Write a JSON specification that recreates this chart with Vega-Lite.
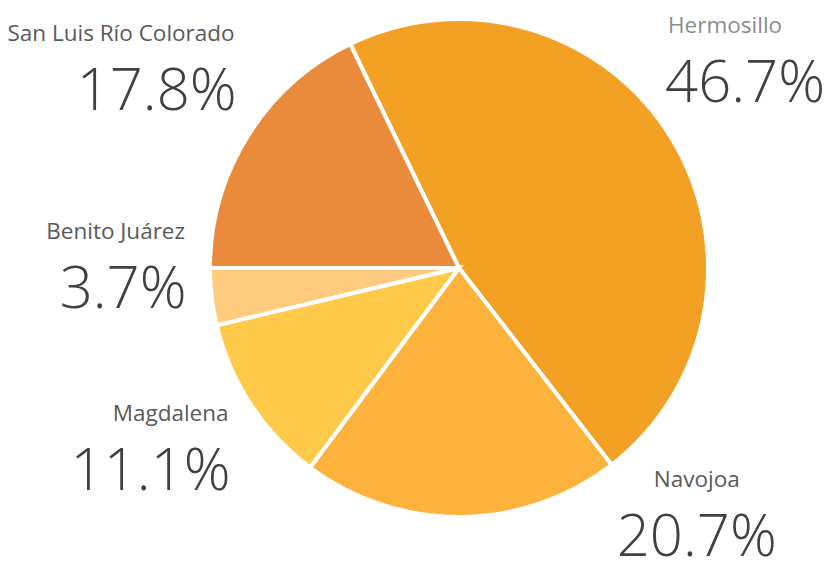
{
  "$schema": "https://vega.github.io/schema/vega-lite/v6.json",
  "width": 734,
  "height": 536,
  "autosize": "none",
  "padding": {"left": 92, "top": 0, "right": 0, "bottom": 25},
  "background": "white",
  "config": {"view": {"stroke": null}},
  "data": {
    "values": [
      {"city": "Hermosillo", "pct": 46.7, "label": "46.7%", "n": 1},
      {"city": "Navojoa", "pct": 20.7, "label": "20.7%", "n": 2},
      {"city": "Magdalena", "pct": 11.1, "label": "11.1%", "n": 3},
      {"city": "Benito Juárez", "pct": 3.7, "label": "3.7%", "n": 4},
      {"city": "San Luis Río Colorado", "pct": 17.8, "label": "17.8%", "n": 5}
    ]
  },
  "encoding": {
    "theta": {"field": "pct", "type": "quantitative", "stack": true, "scale": {"range": [-0.452, 5.831]}},
    "order": {"field": "n", "type": "quantitative", "sort": "ascending"}
  },
  "layer": [
    {
      "mark": {"type": "arc", "outerRadius": 249, "stroke": "white", "strokeWidth": 4},
      "encoding": {
        "color": {
          "field": "city",
          "type": "nominal",
          "scale": {
            "domain": ["Hermosillo", "Navojoa", "Magdalena", "Benito Juárez", "San Luis Río Colorado"],
            "range": ["#F2A124", "#FDB23C", "#FFC94A", "#FFCC7F", "#E98B3A"]
          },
          "legend": null
        }
      }
    },
    {
      "mark": {
        "type": "text",
        "radius": 352,
        "thetaOffset": {"expr": "datum.city === 'Navojoa' ? -0.768 : datum.city === 'Hermosillo' ? -0.082 : datum.city === 'Benito Juárez' ? 0.134 : datum.city === 'Magdalena' ? 0.063 : 0.035"},
        "radiusOffset": {"expr": "datum.city === 'Navojoa' ? -13 : datum.city === 'Hermosillo' ? 4 : datum.city === 'Benito Juárez' ? -16 : datum.city === 'Magdalena' ? 3 : 13"},
        "dy": -30,
        "dx": {"expr": "datum.city === 'Navojoa' ? 0 : datum.city === 'Hermosillo' ? -77 : datum.city === 'Benito Juárez' ? 62 : 78"},
        "align": {"expr": "datum.city === 'Navojoa' ? 'center' : (datum.city === 'Hermosillo' ? 'left' : 'right')"},
        "baseline": "middle",
        "font": "Open Sans",
        "fontSize": 22.5,
        "color": {"expr": "datum.city === 'Hermosillo' ? '#8C8C8C' : '#595959'"}
      },
      "encoding": {"text": {"field": "city", "type": "nominal"}}
    },
    {
      "mark": {
        "type": "text",
        "radius": 352,
        "thetaOffset": {"expr": "datum.city === 'Navojoa' ? -0.768 : datum.city === 'Hermosillo' ? -0.082 : datum.city === 'Benito Juárez' ? 0.134 : datum.city === 'Magdalena' ? 0.063 : 0.035"},
        "radiusOffset": {"expr": "datum.city === 'Navojoa' ? -13 : datum.city === 'Hermosillo' ? 4 : datum.city === 'Benito Juárez' ? -16 : datum.city === 'Magdalena' ? 3 : 13"},
        "dy": 29,
        "align": "center",
        "baseline": "middle",
        "font": "Open Sans",
        "fontWeight": 300,
        "fontSize": 58,
        "color": "#404040"
      },
      "encoding": {"text": {"field": "label", "type": "nominal"}}
    }
  ]
}
